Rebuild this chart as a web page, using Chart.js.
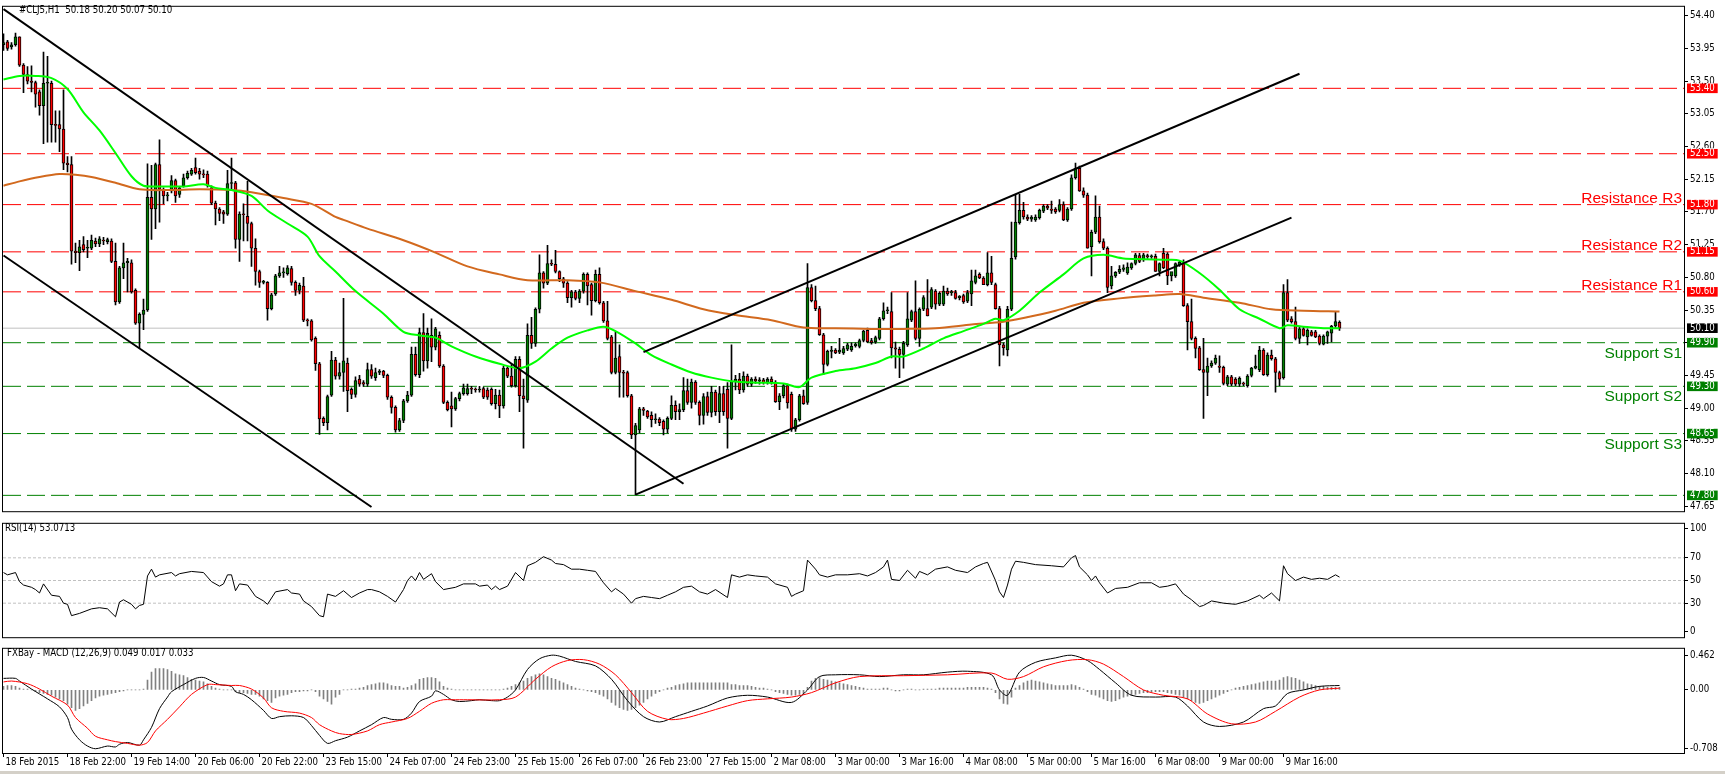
<!DOCTYPE html>
<html><head><meta charset="utf-8">
<script src="https://cdn.jsdelivr.net/npm/chart.js@4.4.1/dist/chart.umd.min.js"></script>
<style>
html,body{margin:0;padding:0;background:#fff;width:1725px;height:774px;overflow:hidden;position:relative}
canvas{position:absolute;left:0}
#c1{top:0}#c2{top:517px}#c3{top:642px}
#strip{position:absolute;left:0;top:771px;width:1725px;height:3px;background:#d4d0c8}
</style></head><body>
<canvas id="c1" width="1725" height="518"></canvas>
<canvas id="c2" width="1725" height="127"></canvas>
<canvas id="c3" width="1725" height="132"></canvas>
<div id="strip"></div>
<script>
// ---------------- DATA ----------------
const priceTitle = '#CLJ5,H1  50.18 50.20 50.07 50.10';
const rsiTitle = 'RSI(14) 53.0713';
const macdTitle = 'FXBay - MACD (12,26,9) 0.049 0.017 0.033';
const dateLabels = ['18 Feb 2015','18 Feb 22:00','19 Feb 14:00','20 Feb 06:00','20 Feb 22:00','23 Feb 15:00','24 Feb 07:00','24 Feb 23:00','25 Feb 15:00','26 Feb 07:00','26 Feb 23:00','27 Feb 15:00','2 Mar 08:00','3 Mar 00:00','3 Mar 16:00','4 Mar 08:00','5 Mar 00:00','5 Mar 16:00','6 Mar 08:00','9 Mar 00:00','9 Mar 16:00'];
const barsPerLabel = 16;

const priceTicks = [54.40,53.95,53.50,53.05,52.60,52.15,51.70,51.25,50.80,50.35,49.90,49.45,49.00,48.55,48.10,47.65];
const levelValues = [53.40,52.50,51.80,51.15,50.60,49.90,49.30,48.65,47.80];
const levelKinds  = ['R','R','R','R','R','S','S','S','S'];
const levelNames  = ['','','Resistance R3','Resistance R2','Resistance R1','Support S1','Support S2','Support S3',''];
const currentPrice = 50.10;

const opens = [
54.00,54.04,53.97,54.00,54.11,53.72,53.59,53.50,53.48,53.35,
53.16,53.47,53.47,52.90,52.90,52.84,52.37,52.35,51.16,51.14,
51.25,51.20,51.20,51.30,51.26,51.31,51.29,51.30,51.02,50.46,
50.93,51.00,51.00,50.62,50.17,50.29,50.35,51.90,51.74,52.35,
52.00,51.92,51.99,52.13,51.94,52.06,52.17,52.22,52.31,52.26,
52.22,52.22,52.03,51.82,51.74,51.70,51.67,52.09,52.10,51.32,
51.67,51.64,51.54,51.20,50.88,50.73,50.73,50.37,50.57,50.82,
50.86,50.85,50.92,50.73,50.62,50.68,50.21,50.20,49.96,49.61,
48.86,48.80,49.18,49.66,49.44,49.49,49.62,49.26,49.19,49.40,
49.35,49.33,49.53,49.42,49.49,49.51,49.45,49.15,49.01,48.70,
48.83,49.10,49.18,49.74,49.46,50.04,49.65,50.00,49.84,50.00,
49.58,49.08,49.03,48.99,49.13,49.20,49.20,49.27,49.26,49.25,
49.27,49.25,49.26,49.06,49.18,49.03,49.55,49.44,49.31,49.67,
49.17,49.11,50.00,49.89,50.36,50.86,50.72,50.99,50.98,50.88,
50.78,50.72,50.52,50.60,50.51,50.61,50.84,50.70,50.48,50.84,
50.45,50.20,49.98,49.49,49.71,49.49,49.49,49.17,48.63,48.70,
48.99,48.96,48.90,48.84,48.85,48.82,48.71,48.86,49.04,48.95,
48.98,49.24,49.08,49.36,49.08,48.90,49.16,48.94,49.22,48.95,
49.20,49.26,48.86,49.37,49.40,49.25,49.44,49.33,49.40,49.37,
49.39,49.35,49.40,49.36,49.09,49.17,49.31,49.19,48.71,48.84,
49.17,49.08,50.66,50.48,50.37,50.01,49.60,49.78,49.80,49.77,
49.76,49.81,49.80,49.86,49.85,49.93,50.07,49.93,49.91,49.96,
50.23,50.34,50.33,49.83,49.81,49.74,49.87,50.21,50.33,49.96,
50.36,50.37,50.39,50.61,50.43,50.43,50.61,50.59,50.59,50.52,
50.55,50.47,50.57,50.73,50.84,50.79,50.70,50.86,50.70,50.37,
49.87,49.80,50.36,51.08,51.55,51.72,51.63,51.60,51.59,51.62,
51.71,51.78,51.74,51.74,51.72,51.80,51.59,51.74,52.17,52.30,
51.99,51.93,51.22,51.42,51.63,51.29,51.20,50.68,50.82,50.87,
50.91,50.86,50.93,50.99,51.10,51.04,51.10,51.08,51.09,50.88,
51.13,51.12,50.82,50.82,50.97,50.99,50.41,50.19,49.96,49.83,
49.53,49.49,49.58,49.62,49.58,49.56,49.33,49.43,49.40,49.33,
49.34,49.31,49.45,49.55,49.53,49.80,49.46,49.73,49.68,49.49,
49.42,50.59,50.23,50.19,49.96,50.09,49.98,50.05,50.05,49.99,
49.88,49.99,50.03,50.13,50.18];
const highs = [
54.15,54.06,54.03,54.16,54.11,53.74,53.70,53.71,53.50,53.38,
53.90,53.84,53.50,53.09,53.09,53.38,52.46,52.46,51.27,51.31,
51.36,51.31,51.38,51.34,51.36,51.35,51.34,51.33,51.27,50.95,
51.27,51.06,51.04,50.64,50.31,50.50,52.36,52.34,52.37,52.69,
52.03,51.97,52.20,52.15,52.05,52.22,52.26,52.30,52.44,52.30,
52.28,52.26,52.06,51.85,51.76,51.72,52.27,52.44,52.12,51.70,
51.81,52.12,51.56,51.33,50.90,50.76,50.74,50.58,50.84,50.95,
50.93,50.96,50.95,50.75,50.72,50.80,50.23,50.22,49.98,49.63,
48.88,49.18,49.78,49.70,49.62,50.51,49.69,49.28,49.43,49.45,
49.38,49.62,49.60,49.55,49.53,49.52,49.47,49.17,49.03,48.86,
49.12,49.23,49.84,49.84,50.10,50.30,50.10,50.23,50.11,50.05,
49.60,49.10,49.22,49.15,49.22,49.33,49.33,49.30,49.28,49.30,
49.29,49.28,49.28,49.26,49.25,49.58,49.57,49.60,49.71,49.71,
49.40,50.16,50.25,50.38,51.11,50.88,51.24,51.04,51.17,50.89,
50.80,50.74,50.62,50.62,50.63,50.86,50.86,50.72,50.90,50.93,
50.47,50.47,50.00,50.05,49.87,49.52,49.51,49.19,48.79,49.01,
49.01,48.97,48.95,48.92,48.87,48.84,48.88,49.17,49.10,49.06,
49.42,49.40,49.40,49.38,49.10,49.20,49.22,49.30,49.25,49.30,
49.30,49.35,49.87,49.45,49.48,49.50,49.47,49.42,49.43,49.42,
49.41,49.42,49.43,49.38,49.20,49.34,49.33,49.22,48.86,49.19,
49.25,50.99,50.70,50.68,50.40,50.03,49.80,49.85,49.82,49.96,
49.85,49.89,49.90,49.90,49.95,50.07,50.10,49.96,49.99,50.25,
50.45,50.39,50.59,49.91,49.84,49.92,50.59,50.35,50.75,50.38,
50.55,50.77,50.66,50.63,50.60,50.68,50.65,50.62,50.62,50.55,
50.57,50.62,50.90,50.90,50.86,50.81,51.14,51.09,50.72,50.40,
49.90,50.40,51.56,51.94,51.94,51.83,51.66,51.65,51.66,51.74,
51.80,51.80,51.85,51.76,51.87,51.84,51.76,52.21,52.37,52.33,
52.03,51.96,51.45,51.92,51.78,51.33,51.22,50.95,50.88,50.96,
50.97,51.00,51.00,51.13,51.13,51.13,51.12,51.11,51.12,51.00,
51.20,51.14,50.86,51.00,51.03,51.04,50.44,50.50,49.98,49.85,
49.96,49.69,49.65,49.73,49.72,49.58,49.45,49.45,49.42,49.43,
49.36,49.46,49.56,49.73,49.85,49.82,49.76,49.80,49.70,49.51,
50.70,50.77,50.26,50.39,50.11,50.11,50.09,50.07,50.07,50.01,
50.01,50.06,50.14,50.32,50.20];
const lows = [
53.92,53.92,53.94,53.98,53.70,53.34,53.46,53.35,53.14,53.03,
52.64,52.66,52.66,52.66,52.53,52.28,52.25,50.98,51.00,50.89,
51.15,51.07,51.18,51.22,51.22,51.25,51.26,51.00,50.42,50.44,
50.78,50.60,50.58,50.15,49.83,50.08,50.33,51.32,51.47,51.56,
51.81,51.85,51.96,51.83,51.90,52.04,52.15,52.20,52.22,52.15,
52.17,52.04,51.80,51.52,51.58,51.54,51.65,52.02,51.20,51.02,
51.30,51.30,50.95,50.69,50.66,50.71,50.21,50.35,50.55,50.80,
50.80,50.83,50.69,50.55,50.57,50.19,50.13,49.92,49.52,48.64,
48.76,48.70,49.16,49.40,49.40,49.23,48.95,49.13,49.15,49.30,
49.30,49.30,49.41,49.38,49.46,49.42,49.12,48.93,48.67,48.68,
48.80,49.08,49.16,49.44,49.42,49.51,49.55,49.64,49.80,49.56,
49.06,48.96,48.74,48.97,49.10,49.18,49.18,49.20,49.22,49.22,
49.13,49.12,49.04,48.99,48.87,49.00,49.42,49.29,49.29,48.95,
48.45,49.08,49.82,49.85,50.31,50.65,50.70,50.96,50.86,50.74,
50.66,50.45,50.39,50.49,50.45,50.58,50.42,50.28,50.46,50.43,
50.18,49.94,49.47,49.47,49.15,49.15,49.15,48.58,47.81,48.66,
48.90,48.86,48.74,48.79,48.76,48.63,48.66,48.84,48.84,48.84,
48.95,49.05,49.00,49.05,48.77,48.78,48.90,48.88,48.90,48.80,
48.90,48.45,48.84,49.25,49.20,49.22,49.30,49.30,49.34,49.33,
49.33,49.33,49.33,49.08,48.98,49.14,49.00,48.68,48.68,48.82,
49.05,49.05,50.46,50.34,50.00,49.46,49.58,49.69,49.75,49.75,
49.74,49.79,49.78,49.84,49.83,49.91,49.90,49.88,49.89,49.94,
50.21,50.30,49.69,49.55,49.42,49.55,49.85,50.19,49.94,49.85,
50.34,50.27,50.37,50.36,50.41,50.41,50.55,50.55,50.50,50.49,
50.44,50.45,50.41,50.71,50.78,50.70,50.68,50.70,50.36,49.58,
49.73,49.72,50.34,51.05,51.53,51.60,51.58,51.57,51.57,51.60,
51.69,51.73,51.68,51.68,51.70,51.58,51.57,51.72,52.15,51.98,
51.90,51.20,50.82,51.40,51.27,51.18,50.59,50.64,50.80,50.85,
50.88,50.84,50.91,50.97,51.00,51.02,51.06,51.06,50.88,50.82,
50.92,50.70,50.75,50.80,50.95,50.40,49.80,49.94,49.69,49.52,
48.86,49.17,49.56,49.60,49.49,49.32,49.31,49.31,49.31,49.30,
49.31,49.29,49.43,49.54,49.50,49.45,49.44,49.66,49.22,49.31,
49.40,50.19,50.17,49.94,49.89,49.99,49.87,49.99,49.97,49.87,
49.87,49.89,49.91,50.11,50.07];
const closes = [
54.03,53.95,54.00,54.11,53.72,53.59,53.50,53.48,53.32,53.16,
53.47,53.48,52.90,52.89,52.84,52.37,52.35,51.16,51.14,51.22,
51.18,51.21,51.31,51.26,51.33,51.30,51.32,51.02,50.46,50.93,
51.00,51.02,50.60,50.17,50.29,50.35,51.90,51.74,52.35,52.01,
51.92,51.92,52.13,51.92,52.03,52.17,52.23,52.27,52.24,52.22,
52.21,52.06,51.82,51.74,51.68,51.67,52.09,52.10,51.32,51.67,
51.66,51.54,51.20,50.88,50.73,50.74,50.37,50.56,50.82,50.86,
50.87,50.93,50.73,50.62,50.69,50.21,50.20,49.94,49.61,48.85,
48.80,49.16,49.66,49.44,49.49,49.65,49.24,49.19,49.38,49.33,
49.33,49.53,49.44,49.49,49.51,49.45,49.15,49.01,48.70,48.83,
49.10,49.18,49.74,49.46,50.04,49.65,50.03,49.84,50.09,49.58,
49.08,48.98,48.99,49.13,49.20,49.28,49.27,49.26,49.25,49.26,
49.15,49.15,49.06,49.18,49.03,49.55,49.44,49.31,49.67,49.17,
49.13,50.00,49.89,50.36,50.86,50.72,50.99,50.98,50.88,50.78,
50.72,50.52,50.60,50.51,50.61,50.84,50.68,50.48,50.84,50.45,
50.20,49.96,49.49,49.69,49.49,49.48,49.17,48.63,48.76,48.99,
48.97,48.88,48.84,48.85,48.80,48.71,48.86,49.04,48.95,48.98,
49.24,49.08,49.36,49.08,48.90,49.16,48.94,49.22,48.95,49.20,
48.95,48.86,49.37,49.40,49.25,49.44,49.33,49.40,49.37,49.39,
49.35,49.40,49.36,49.09,49.17,49.31,49.07,48.71,48.84,49.17,
49.06,50.66,50.48,50.37,50.01,49.60,49.78,49.80,49.76,49.80,
49.82,49.87,49.85,49.88,49.93,50.06,49.91,49.90,49.97,50.23,
50.34,50.35,49.83,49.81,49.74,49.89,50.23,50.33,49.96,50.36,
50.52,50.27,50.63,50.43,50.58,50.61,50.57,50.60,50.51,50.54,
50.46,50.59,50.75,50.82,50.79,50.70,50.86,50.73,50.37,49.87,
49.83,50.36,51.06,51.56,51.72,51.63,51.60,51.63,51.63,51.72,
51.78,51.75,51.72,51.70,51.80,51.59,51.74,52.17,52.30,51.99,
51.93,51.20,51.42,51.63,51.29,51.20,50.66,50.82,50.87,50.91,
50.93,50.94,50.99,51.11,51.02,51.11,51.08,51.09,50.88,50.99,
50.93,50.82,50.88,50.99,51.01,50.41,50.19,49.96,49.82,49.53,
49.49,49.58,49.62,49.69,49.56,49.34,49.43,49.33,49.33,49.41,
49.33,49.44,49.55,49.58,49.80,49.46,49.73,49.68,49.49,49.40,
50.59,50.21,50.19,49.96,50.09,50.00,50.07,50.00,49.98,49.89,
49.99,50.05,50.13,50.19,50.10];

// moving averages: [bar, value]
const maGreen = [[0,53.52],[4,53.57],[8,53.57],[12,53.54],[16,53.39],[20,53.07],[24,52.82],[28,52.51],[32,52.19],[35,52.06],[39,52.05],[45,52.05],[50,52.08],[53,52.03],[57,52.00],[62,51.92],[66,51.72],[71,51.54],[76,51.36],[79,51.09],[83,50.88],[88,50.61],[95,50.30],[100,50.05],[104,50.00],[108,49.97],[112,49.85],[118,49.71],[124,49.61],[129,49.55],[133,49.64],[137,49.82],[141,49.97],[146,50.07],[150,50.12],[153,50.06],[158,49.89],[162,49.73],[167,49.60],[172,49.49],[177,49.42],[182,49.37],[188,49.35],[195,49.34],[199,49.29],[202,49.42],[208,49.51],[213,49.55],[218,49.62],[222,49.71],[225,49.71],[230,49.82],[235,49.96],[240,50.06],[245,50.16],[248,50.23],[250,50.21],[254,50.34],[259,50.59],[265,50.84],[270,51.06],[275,51.11],[280,51.06],[285,51.05],[290,51.04],[294,51.03],[299,50.86],[304,50.63],[309,50.36],[314,50.23],[319,50.10],[321,50.14],[325,50.12],[330,50.10],[334,50.10]];
const maOrange = [[0,52.06],[4,52.12],[9,52.18],[14,52.22],[18,52.21],[22,52.18],[28,52.10],[34,52.01],[41,52.00],[49,52.01],[57,52.00],[62,51.97],[70,51.89],[77,51.81],[83,51.63],[85,51.59],[91,51.47],[100,51.31],[108,51.14],[116,50.95],[124,50.84],[131,50.76],[141,50.76],[149,50.73],[158,50.61],[167,50.49],[175,50.36],[183,50.28],[192,50.21],[200,50.11],[208,50.10],[217,50.09],[225,50.09],[233,50.10],[242,50.15],[250,50.19],[255,50.24],[263,50.34],[270,50.45],[279,50.51],[288,50.55],[294,50.57],[300,50.52],[309,50.45],[317,50.36],[325,50.34],[334,50.33]];

// trend lines: [bar1, price1, bar2, price2]
const trendLines = [[0,54.49,170,47.96],[0,51.10,92,47.64],[158,47.81,322,51.62],[160,49.77,324,53.60]];

// RSI(14): [bar, value]
const rsiPoints = [[0,57],[1,55],[3,57],[4,49],[5,46],[7,44],[8,42],[9,39],[10,47],[12,37],[14,36],[15,30],[16,29],[17,19],[19,21],[22,25],[24,26],[26,25],[28,18],[29,31],[30,33],[32,29],[33,25],[34,28],[35,29],[36,54],[37,60],[38,53],[39,55],[42,57],[43,54],[44,56],[47,58],[50,57],[52,49],[54,45],[55,47],[56,55],[57,55],[58,41],[59,47],[61,46],[63,36],[65,32],[66,29],[68,40],[71,42],[72,39],[74,38],[75,32],[77,27],[79,19],[80,18],[81,38],[83,36],[85,41],[87,35],[89,39],[91,42],[92,42],[94,40],[96,36],[98,31],[100,42],[101,50],[102,54],[103,50],[104,57],[105,51],[107,56],[108,49],[110,42],[113,44],[115,47],[118,47],[119,45],[121,46],[122,42],[123,45],[124,42],[126,45],[128,57],[130,50],[131,63],[133,66],[135,71],[137,68],[138,65],[140,64],[142,60],[144,60],[146,59],[148,58],[150,48],[152,40],[153,43],[155,38],[157,30],[158,34],[160,36],[162,35],[164,34],[166,37],[168,40],[170,44],[172,45],[174,40],[176,38],[178,42],[181,35],[182,55],[184,53],[186,55],[188,54],[191,53],[193,47],[196,44],[197,36],[198,38],[200,41],[201,68],[203,60],[204,55],[206,53],[208,55],[211,55],[214,56],[216,54],[218,57],[220,62],[221,68],[222,51],[224,50],[226,59],[228,52],[229,58],[231,55],[233,60],[236,62],[238,59],[241,57],[243,62],[245,65],[246,66],[248,50],[249,40],[250,35],[251,46],[252,60],[253,67],[255,66],[258,64],[262,63],[265,62],[267,70],[268,72],[269,62],[271,55],[272,50],[273,54],[274,48],[276,39],[278,43],[281,44],[284,48],[287,48],[289,44],[291,45],[293,47],[295,38],[297,33],[299,27],[300,28],[302,32],[305,30],[308,29],[311,32],[314,37],[315,34],[317,39],[319,32],[320,63],[321,56],[323,50],[325,53],[327,51],[329,52],[331,51],[333,55],[334,53]];
const rsiLevels = [70,50,30];
const rsiTickLabels = ['100','70','50','30','0'];

// MACD lines: [bar, value]
const macdMain = [[0,0.13],[3,0.13],[4,0.10],[7,0.01],[11,-0.10],[14,-0.19],[16,-0.31],[17,-0.44],[19,-0.56],[21,-0.63],[23,-0.66],[26,-0.63],[28,-0.64],[29,-0.61],[31,-0.59],[34,-0.62],[35,-0.56],[37,-0.42],[39,-0.21],[41,-0.08],[42,-0.02],[45,0.06],[48,0.13],[50,0.14],[52,0.10],[54,0.06],[57,0.04],[58,-0.02],[60,-0.05],[62,-0.11],[65,-0.23],[67,-0.32],[69,-0.30],[72,-0.29],[75,-0.31],[77,-0.40],[79,-0.51],[81,-0.60],[83,-0.57],[86,-0.53],[89,-0.46],[92,-0.39],[95,-0.31],[97,-0.33],[100,-0.33],[102,-0.26],[104,-0.13],[107,-0.07],[108,-0.01],[110,-0.05],[112,-0.11],[114,-0.13],[117,-0.12],[119,-0.11],[122,-0.12],[124,-0.12],[126,-0.08],[128,0.00],[131,0.23],[134,0.35],[137,0.39],[139,0.38],[143,0.32],[148,0.27],[152,0.12],[156,-0.12],[160,-0.30],[164,-0.36],[168,-0.30],[172,-0.24],[176,-0.18],[181,-0.09],[186,-0.06],[191,-0.08],[197,-0.14],[201,0.00],[204,0.15],[208,0.17],[214,0.17],[219,0.15],[225,0.17],[230,0.17],[236,0.20],[241,0.21],[247,0.17],[249,0.00],[251,-0.06],[254,0.20],[258,0.31],[263,0.36],[267,0.39],[271,0.33],[274,0.23],[278,0.08],[282,-0.06],[288,-0.08],[293,-0.08],[296,-0.18],[300,-0.36],[304,-0.41],[310,-0.36],[315,-0.21],[318,-0.18],[321,-0.04],[325,0.00],[329,0.04],[334,0.05]];
const macdSignal = [[0,0.09],[2,0.10],[6,0.07],[9,0.01],[12,-0.07],[16,-0.17],[18,-0.31],[21,-0.43],[23,-0.52],[26,-0.56],[28,-0.58],[31,-0.60],[34,-0.62],[36,-0.59],[38,-0.46],[41,-0.33],[44,-0.19],[47,-0.05],[51,0.06],[53,0.06],[57,0.05],[59,0.05],[62,0.01],[65,-0.09],[67,-0.20],[70,-0.24],[74,-0.26],[77,-0.31],[79,-0.39],[82,-0.46],[84,-0.49],[87,-0.50],[91,-0.46],[94,-0.39],[97,-0.36],[101,-0.32],[104,-0.24],[107,-0.15],[110,-0.11],[112,-0.11],[116,-0.11],[124,-0.11],[128,-0.08],[133,0.12],[137,0.26],[141,0.33],[145,0.34],[149,0.29],[153,0.17],[157,-0.03],[161,-0.24],[166,-0.33],[170,-0.32],[175,-0.26],[181,-0.18],[186,-0.12],[191,-0.10],[197,-0.08],[202,-0.03],[208,0.08],[214,0.15],[225,0.16],[236,0.17],[247,0.19],[251,0.12],[255,0.15],[260,0.26],[266,0.33],[271,0.34],[275,0.29],[280,0.15],[285,0.00],[290,-0.06],[296,-0.10],[301,-0.27],[307,-0.38],[313,-0.36],[318,-0.24],[324,-0.08],[329,0.00],[334,0.02]];
const macdHist = [
0.04,0.05,0.05,0.04,0.02,0.01,0.01,0.00,-0.02,-0.03,
-0.04,-0.05,-0.06,-0.08,-0.10,-0.12,-0.16,-0.20,-0.23,-0.21,
-0.18,-0.15,-0.12,-0.09,-0.07,-0.06,-0.05,-0.04,-0.03,-0.02,
-0.01,0.00,0.00,0.00,0.00,0.01,0.11,0.20,0.24,0.24,
0.24,0.23,0.21,0.18,0.17,0.16,0.14,0.12,0.11,0.10,
0.09,0.07,0.04,0.02,0.01,0.00,0.00,0.00,-0.02,-0.03,
-0.03,-0.04,-0.05,-0.05,-0.07,-0.10,-0.12,-0.14,-0.09,-0.07,
-0.06,-0.05,-0.03,-0.02,-0.02,-0.01,-0.01,0.00,-0.02,-0.07,
-0.10,-0.13,-0.16,-0.08,-0.05,0.00,0.00,0.01,0.01,0.02,
0.03,0.05,0.06,0.07,0.08,0.08,0.07,0.05,0.04,0.04,
0.02,0.03,0.05,0.07,0.12,0.13,0.14,0.14,0.13,0.09,
0.04,0.02,0.01,0.00,0.00,0.00,0.00,0.00,0.00,0.00,
0.00,0.00,0.00,0.00,0.00,0.01,0.02,0.04,0.06,0.08,
0.10,0.13,0.15,0.17,0.18,0.17,0.15,0.13,0.12,0.10,
0.08,0.06,0.04,0.02,0.01,0.00,-0.01,-0.02,-0.03,-0.05,
-0.07,-0.10,-0.14,-0.17,-0.20,-0.22,-0.23,-0.22,-0.20,-0.17,
-0.14,-0.10,-0.07,-0.04,-0.02,0.00,0.02,0.03,0.05,0.06,
0.07,0.08,0.08,0.08,0.08,0.08,0.08,0.08,0.08,0.08,
0.08,0.08,0.06,0.06,0.05,0.05,0.05,0.04,0.03,0.02,
0.02,0.01,0.00,-0.02,-0.03,-0.04,-0.05,-0.06,-0.06,-0.05,
-0.05,0.03,0.10,0.13,0.14,0.12,0.11,0.10,0.09,0.08,
0.07,0.06,0.05,0.04,0.03,0.02,0.01,0.01,0.01,0.01,
0.02,0.02,0.00,-0.01,-0.01,0.00,0.01,0.01,0.00,0.00,
0.01,0.01,0.01,0.01,0.02,0.02,0.02,0.02,0.02,0.02,
0.02,0.03,0.03,0.03,0.03,0.03,0.02,0.01,-0.03,-0.10,
-0.15,-0.16,-0.08,0.02,0.05,0.08,0.10,0.11,0.10,0.09,
0.08,0.07,0.06,0.05,0.05,0.05,0.05,0.06,0.05,0.03,
0.01,-0.02,-0.05,-0.06,-0.08,-0.10,-0.12,-0.13,-0.12,-0.10,
-0.08,-0.07,-0.06,-0.05,-0.04,-0.03,-0.03,-0.02,-0.02,-0.02,
-0.02,-0.03,-0.04,-0.05,-0.06,-0.08,-0.10,-0.12,-0.14,-0.15,
-0.14,-0.12,-0.10,-0.08,-0.06,-0.04,-0.02,0.00,0.02,0.03,
0.04,0.05,0.06,0.07,0.08,0.09,0.10,0.10,0.10,0.11,
0.14,0.15,0.14,0.13,0.11,0.09,0.07,0.06,0.05,0.04,
0.04,0.03,0.03,0.03,0.03];
const macdTickLabels = ['0.462','0.00','-0.708'];
const macdRange = [-0.708, 0.462];

// ---------------- STYLE / LAYOUT ----------------
const FAM = "'DejaVu Sans Condensed','DejaVu Sans',sans-serif";
const FSIZE = 9.6;
const AXF = {family: FAM, size: FSIZE, lineHeight: 1.0};
const RED = '#ff0000', GREEN = '#008000';
const X_MIN = -0.125, X_MAX = 420.125;
const P_MAX = 54.5215, P_MIN = 47.582;

const frame = {id:'frame', afterDraw(chart){
  const {ctx, chartArea:a} = chart; ctx.save(); ctx.strokeStyle='#000'; ctx.lineWidth=1;
  ctx.strokeRect(a.left-0.5, a.top-0.5, a.right-a.left+1, a.bottom-a.top+1); ctx.restore();
}};
function titlePlugin(text, x, y){
  return {id:'title'+x+y, afterDraw(chart){
    const ctx = chart.ctx; ctx.save(); ctx.font = FSIZE+'px '+FAM; ctx.fillStyle='#000';
    ctx.textAlign='left'; ctx.textBaseline='middle'; ctx.fillText(text, x, y); ctx.restore();
  }};
}
const levelText = {id:'levelText', afterDatasetsDraw(chart){
  const {ctx, chartArea:a, scales:{y}} = chart; ctx.save();
  ctx.font = "15.5px 'Liberation Sans', Arial, sans-serif"; ctx.textAlign='right'; ctx.textBaseline='alphabetic';
  levelNames.forEach((n,i)=>{ if(!n) return; const py = y.getPixelForValue(levelValues[i]);
    ctx.fillStyle = levelKinds[i]==='R'?RED:GREEN;
    ctx.fillText(n, a.right-2, levelKinds[i]==='R' ? py-2 : py+15);
  });
  ctx.restore();
}};
function baseX(display){ return {type:'linear', min:X_MIN, max:X_MAX, display, offset:false, grid:{offset:false}}; }
function yCommon(extra){ return Object.assign({position:'right', afterFit(s){s.width=41;},
  border:{display:true,color:'#000',width:1},
  grid:{drawOnChartArea:false, drawTicks:true, tickLength:4, color:'#000'}}, extra); }
const common = {responsive:false, animation:false, events:[], devicePixelRatio:1,
  plugins:{legend:{display:false}, tooltip:{enabled:false}}};

// ---------------- PRICE CHART ----------------
const idx = closes.map((_,i)=>i);
const specialTicks = levelValues.concat([currentPrice]);
const specialColor = v => { if (Math.abs(v-currentPrice)<1e-6) return '#000';
  const k = levelValues.findIndex(l=>Math.abs(l-v)<1e-6); return levelKinds[k]==='R'?RED:GREEN; };
const priceDatasets = [];
levelValues.forEach((v,i)=>priceDatasets.push({type:'line', data:[{x:X_MIN,y:v},{x:X_MAX,y:v}],
  borderColor: levelKinds[i]==='R'?RED:GREEN, borderWidth:1, borderDash:[18,6], pointRadius:0, order:30}));
priceDatasets.push({type:'line', data:[{x:X_MIN,y:currentPrice},{x:X_MAX,y:currentPrice}], borderColor:'#c0c0c0', borderWidth:1, pointRadius:0, order:31});
priceDatasets.push({type:'bar', data: idx.map(i=>({x:i, y:[lows[i], highs[i]]})), backgroundColor:'#000', borderWidth:0, barThickness:1, grouped:false, order:20});
priceDatasets.push({type:'bar', data: idx.map(i=>({x:i, y:[opens[i], closes[i]]})),
  backgroundColor: c => closes[c.dataIndex] >= opens[c.dataIndex] ? GREEN : RED,
  borderColor:'#000', borderWidth:1, borderSkipped:false, barThickness:3, minBarLength:1, grouped:false, order:19});
priceDatasets.push({type:'line', data: maOrange.map(p=>({x:p[0],y:p[1]})), borderColor:'#d2691e', borderWidth:2, pointRadius:0, tension:0.3, order:6});
priceDatasets.push({type:'line', data: maGreen.map(p=>({x:p[0],y:p[1]})), borderColor:'#00ff00', borderWidth:2, pointRadius:0, tension:0.3, order:5});
trendLines.forEach(t=>priceDatasets.push({type:'line', data:[{x:t[0],y:t[1]},{x:t[2],y:t[3]}], borderColor:'#000', borderWidth:2, pointRadius:0, order:1}));

new Chart(document.getElementById('c1'), {type:'bar', data:{datasets:priceDatasets},
  options: Object.assign({}, common, {layout:{padding:{left:3,top:2,bottom:2,right:0}},
    scales:{ x: baseX(false),
      y: yCommon({min:P_MIN, max:P_MAX,
        afterBuildTicks(s){ s.ticks = priceTicks.concat(specialTicks).map(v=>({value:v})); },
        ticks:{autoSkip:false, font:AXF, padding:2,
          callback:(v)=>Number(v).toFixed(2),
          color: c => c.index >= priceTicks.length ? '#fff' : '#000',
          showLabelBackdrop: true,
          backdropColor: c => c.index >= priceTicks.length ? specialColor(c.tick.value) : 'rgba(0,0,0,0)',
          backdropPadding:{left:3,right:3,top:0,bottom:0}},
        grid:{drawOnChartArea:false, drawTicks:true, tickLength:4,
          color: c => c.index >= priceTicks.length ? 'rgba(0,0,0,0)' : '#000'}
      })}}),
  plugins:[frame, levelText, titlePlugin(priceTitle, 19, 10.5)]});

// ---------------- RSI CHART ----------------
const RSI_PX = 121/100;
new Chart(document.getElementById('c2'), {type:'line', data:{datasets:[
  ...rsiLevels.map(v=>({data:[{x:X_MIN,y:v},{x:X_MAX,y:v}], borderColor:'#c0c0c0', borderWidth:1, borderDash:[3,2], pointRadius:0, order:10})),
  {data: rsiPoints.map(p=>({x:p[0],y:p[1]})), borderColor:'#000', borderWidth:1, pointRadius:0, tension:0, order:1}
]}, options: Object.assign({}, common, {layout:{padding:{left:3,top:3,bottom:3,right:0}},
  scales:{ x: baseX(false),
    y: yCommon({min:0, max:100,
      afterBuildTicks(s){ s.ticks = rsiTickLabels.map(l=>{ const v=Number(l); return {value: v===100 ? 100-5/RSI_PX : v===0 ? 6/RSI_PX : v}; }); },
      ticks:{autoSkip:false, font:AXF, padding:2, color:'#000', callback:(v,i)=>rsiTickLabels[i]}})}}),
  plugins:[frame, titlePlugin(rsiTitle, 5, 11)]});

// ---------------- MACD CHART ----------------
const MACD_PX = 109/(macdRange[1]-macdRange[0]);
new Chart(document.getElementById('c3'), {type:'bar', data:{datasets:[
  {type:'bar', data: macdHist.map((v,i)=>({x:i,y:v})), backgroundColor:'#808080', borderWidth:0, barThickness:1, grouped:false, order:10},
  {type:'line', data: macdMain.map(p=>({x:p[0],y:p[1]})), borderColor:'#000', borderWidth:1, pointRadius:0, tension:0.3, order:2},
  {type:'line', data: macdSignal.map(p=>({x:p[0],y:p[1]})), borderColor:RED, borderWidth:1, pointRadius:0, tension:0.3, order:1}
]}, options: Object.assign({}, common, {layout:{padding:{left:3,top:2,bottom:0,right:0}},
  scales:{
    x: {type:'linear', min:X_MIN, max:X_MAX, offset:false, position:'bottom',
      afterFit(s){ s.height = 21; },
      afterBuildTicks(s){ s.ticks = dateLabels.map((_,k)=>({value:k*barsPerLabel})); },
      border:{display:true,color:'#000',width:1},
      grid:{offset:false, drawOnChartArea:false, drawTicks:true, tickLength:4, color:'#000'},
      ticks:{autoSkip:false, maxRotation:0, minRotation:0, align:'start', labelOffset:2, padding:1, font:AXF, color:'#000',
        callback:(v,i)=>dateLabels[i]}},
    y: yCommon({min:macdRange[0], max:macdRange[1],
      afterBuildTicks(s){ s.ticks = [{value: macdRange[1]-7/MACD_PX},{value:0},{value: macdRange[0]+5/MACD_PX}]; },
      ticks:{autoSkip:false, font:AXF, padding:2, color:'#000', callback:(v,i)=>macdTickLabels[i]}})}}),
  plugins:[frame, titlePlugin(macdTitle, 7, 11)]});
</script>
</body></html>
